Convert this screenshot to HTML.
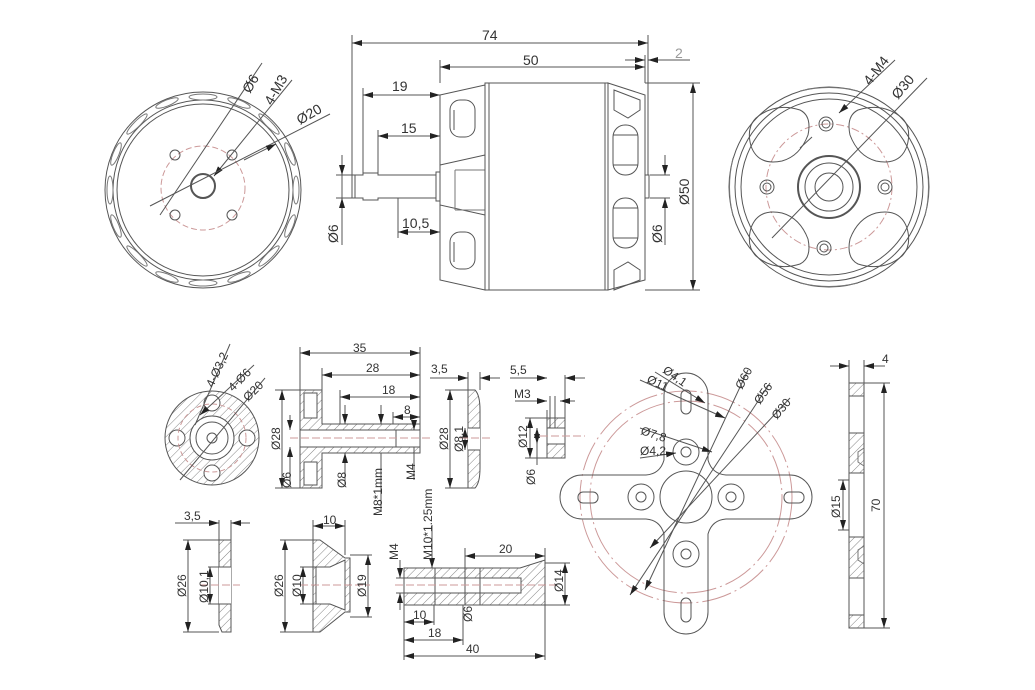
<!DOCTYPE html>
<html><head><meta charset="utf-8"><style>
html,body{margin:0;padding:0;background:#fff}
svg{display:block}
text{font-family:"Liberation Sans",sans-serif;font-size:14px;fill:#333}
.s{font-size:12px}
</style></head><body>
<svg width="1035" height="690" viewBox="0 0 1035 690" xmlns="http://www.w3.org/2000/svg">
<defs>
<marker id="a" viewBox="0 0 10 6" refX="10" refY="3" markerWidth="10" markerHeight="6" orient="auto-start-reverse" markerUnits="userSpaceOnUse"><path d="M0,0L10,3L0,6z" fill="#222"/></marker>
<pattern id="h" width="6" height="6" patternUnits="userSpaceOnUse" patternTransform="rotate(45)"><line x1="0" y1="0" x2="0" y2="6" stroke="#666" stroke-width="0.8"/></pattern>
</defs>
<g fill="none" stroke="#555" stroke-width="1">
<!-- top-left front view -->
<circle cx="203" cy="190" r="98"/>
<circle cx="203" cy="190" r="90"/>
<circle cx="203" cy="190" r="86"/>
<g stroke="#777">
<ellipse cx="203" cy="97" rx="14" ry="3"/><ellipse cx="203" cy="283" rx="14" ry="3"/>
<ellipse cx="110" cy="190" rx="3" ry="14"/><ellipse cx="296" cy="190" rx="3" ry="14"/>
<ellipse cx="137" cy="124" rx="14" ry="3" transform="rotate(-45 137 124)"/><ellipse cx="269" cy="124" rx="14" ry="3" transform="rotate(45 269 124)"/>
<ellipse cx="137" cy="256" rx="14" ry="3" transform="rotate(45 137 256)"/><ellipse cx="269" cy="256" rx="14" ry="3" transform="rotate(-45 269 256)"/>
<ellipse cx="116" cy="154" rx="3" ry="12" transform="rotate(22 116 154)"/><ellipse cx="290" cy="154" rx="3" ry="12" transform="rotate(-22 290 154)"/>
<ellipse cx="116" cy="226" rx="3" ry="12" transform="rotate(-22 116 226)"/><ellipse cx="290" cy="226" rx="3" ry="12" transform="rotate(22 290 226)"/>
<ellipse cx="167" cy="103" rx="12" ry="3" transform="rotate(-22 167 103)"/><ellipse cx="239" cy="103" rx="12" ry="3" transform="rotate(22 239 103)"/>
<ellipse cx="167" cy="277" rx="12" ry="3" transform="rotate(22 167 277)"/><ellipse cx="239" cy="277" rx="12" ry="3" transform="rotate(-22 239 277)"/>
</g>
<circle cx="203" cy="188" r="42" stroke="#c99" stroke-dasharray="6,3"/>
<circle cx="203" cy="186" r="12" stroke-width="2"/>
<circle cx="175" cy="155" r="5"/><circle cx="232" cy="155" r="5"/><circle cx="175" cy="215" r="5"/><circle cx="232" cy="215" r="5"/>
<line x1="262" y1="63" x2="160" y2="215"/><line x1="292" y1="80" x2="214" y2="176" marker-end="url(#a)"/>
<line x1="330" y1="114" x2="150" y2="206"/>
<line x1="276" y1="144" x2="244" y2="160" marker-start="url(#a)"/>
<!-- side view -->
<line x1="352" y1="35" x2="352" y2="175"/><line x1="648" y1="35" x2="648" y2="175"/>
<line x1="352" y1="43" x2="648" y2="43" marker-start="url(#a)" marker-end="url(#a)"/>
<line x1="440" y1="60" x2="440" y2="83"/><line x1="645" y1="55" x2="645" y2="83"/>
<line x1="440" y1="67" x2="645" y2="67" marker-start="url(#a)" marker-end="url(#a)"/>
<line x1="625" y1="60" x2="645" y2="60" marker-end="url(#a)"/><line x1="670" y1="60" x2="648" y2="60" marker-end="url(#a)"/><line x1="670" y1="60" x2="690" y2="60"/>
<line x1="363" y1="88" x2="363" y2="175"/><line x1="363" y1="95" x2="440" y2="95" marker-start="url(#a)" marker-end="url(#a)"/>
<line x1="378" y1="130" x2="378" y2="175"/><line x1="378" y1="136" x2="440" y2="136" marker-start="url(#a)" marker-end="url(#a)"/>
<line x1="398" y1="198" x2="398" y2="238"/><line x1="398" y1="232" x2="440" y2="232" marker-start="url(#a)" marker-end="url(#a)"/>
<line x1="342" y1="155" x2="342" y2="245"/><line x1="336" y1="175" x2="352" y2="175"/><line x1="336" y1="198" x2="352" y2="198"/>
<line x1="342" y1="160" x2="342" y2="175" marker-end="url(#a)"/><line x1="342" y1="213" x2="342" y2="198" marker-end="url(#a)"/>
<path d="M352,175H363V173H378V175H436V198H378V200H363V198H352Z"/>
<line x1="355" y1="175" x2="355" y2="198"/>
<rect x="436" y="172" width="4" height="29"/>
<path d="M440,95L485,85V290L440,280Z"/>
<path d="M440,165L485,155V215L440,205Z"/>
<path d="M455,170H485M455,210H485M455,170V210" stroke="#777"/>
<rect x="450" y="100" width="25" height="37" rx="10"/><rect x="450" y="232" width="25" height="37" rx="10"/>
<line x1="454" y1="110" x2="454" y2="130"/><line x1="454" y1="242" x2="454" y2="262"/>
<rect x="485" y="83" width="4" height="207"/>
<rect x="489" y="83" width="116" height="207"/>
<rect x="605" y="83" width="3" height="207"/>
<path d="M608,83L645,95V280L608,290Z"/>
<path d="M614,90L640,100V110L628,118L614,110Z"/><path d="M614,290L640,280V270L628,262L614,270Z"/>
<rect x="613" y="125" width="25" height="50" rx="12"/><rect x="613" y="198" width="25" height="50" rx="12"/>
<line x1="613" y1="135" x2="638" y2="135"/><line x1="613" y1="165" x2="638" y2="165"/>
<line x1="613" y1="208" x2="638" y2="208"/><line x1="613" y1="238" x2="638" y2="238"/>
<rect x="645" y="175" width="4" height="23"/>
<line x1="650" y1="175" x2="670" y2="175"/><line x1="650" y1="198" x2="670" y2="198"/>
<line x1="665" y1="155" x2="665" y2="175" marker-end="url(#a)"/><line x1="665" y1="218" x2="665" y2="198" marker-end="url(#a)"/><line x1="665" y1="218" x2="665" y2="245"/>
<line x1="645" y1="83" x2="700" y2="83"/><line x1="645" y1="290" x2="700" y2="290"/>
<line x1="693" y1="83" x2="693" y2="290" marker-start="url(#a)" marker-end="url(#a)"/>
<!-- right front view -->
<circle cx="829" cy="187" r="100"/><circle cx="829" cy="187" r="94"/><circle cx="829" cy="187" r="88"/>
<g stroke="#777">
<path d="M800,91Q829,84 858,91"/><path d="M800,283Q829,290 858,283"/>
<path d="M733,158Q726,187 733,216"/><path d="M925,158Q932,187 925,216"/>
</g>
<circle cx="829" cy="187" r="63" stroke="#c99" stroke-dasharray="8,3,2,3"/>
<g id="lobe"><path d="M756,118Q775,102 800,110Q812,116 808,135Q800,156 782,161Q758,166 751,146Q746,128 756,118Z"/></g>
<use href="#lobe" transform="translate(1658,0) scale(-1,1)"/>
<use href="#lobe" transform="translate(0,374) scale(1,-1)"/>
<use href="#lobe" transform="translate(1658,374) scale(-1,-1)"/>
<circle cx="829" cy="187" r="31" stroke-width="2"/><circle cx="829" cy="187" r="24"/><circle cx="829" cy="187" r="14"/>
<circle cx="826" cy="124" r="7"/><circle cx="826" cy="124" r="4"/>
<circle cx="824" cy="248" r="7"/><circle cx="824" cy="248" r="4"/>
<circle cx="767" cy="187" r="7"/><circle cx="767" cy="187" r="4"/>
<circle cx="885" cy="187" r="7"/><circle cx="885" cy="187" r="4"/>
<line x1="895" y1="60" x2="839" y2="113" marker-end="url(#a)"/><line x1="812" y1="137" x2="800" y2="148"/>
<line x1="927" y1="78" x2="772" y2="238"/>
<!-- bottom: hub -->
<circle cx="212" cy="438" r="47" fill="url(#h)"/>
<circle cx="212" cy="438" r="22" fill="#fff"/><circle cx="212" cy="438" r="16"/><circle cx="212" cy="438" r="5"/>
<circle cx="212" cy="403" r="8" fill="#fff"/><circle cx="212" cy="473" r="8" fill="#fff"/><circle cx="177" cy="438" r="8" fill="#fff"/><circle cx="247" cy="438" r="8" fill="#fff"/>
<circle cx="212" cy="438" r="34" stroke="#c99" stroke-dasharray="5,3"/>
<line x1="230" y1="344" x2="195" y2="425"/><line x1="254" y1="365" x2="200" y2="415" marker-end="url(#a)"/>
<line x1="265" y1="378" x2="180" y2="480"/>
<!-- prop adapter -->
<line x1="300" y1="347" x2="300" y2="390"/><line x1="420" y1="347" x2="420" y2="424"/>
<line x1="300" y1="353" x2="420" y2="353" marker-start="url(#a)" marker-end="url(#a)"/>
<line x1="322" y1="368" x2="322" y2="390"/><line x1="322" y1="375" x2="420" y2="375" marker-start="url(#a)" marker-end="url(#a)"/>
<line x1="340" y1="390" x2="340" y2="424"/><line x1="340" y1="397" x2="420" y2="397" marker-start="url(#a)" marker-end="url(#a)"/>
<line x1="393" y1="412" x2="393" y2="424"/><line x1="393" y1="417" x2="420" y2="417" marker-start="url(#a)" marker-end="url(#a)"/>
<path d="M300,390H322V424H420V453H322V488H300Z" fill="url(#h)"/>
<rect x="304" y="393" width="13" height="25" fill="#fff"/><rect x="304" y="462" width="13" height="23" fill="#fff"/>
<rect x="300" y="430" width="120" height="17" fill="#fff"/>
<line x1="396" y1="430" x2="396" y2="447"/>
<line x1="275" y1="390" x2="300" y2="390"/><line x1="275" y1="488" x2="300" y2="488"/>
<line x1="282" y1="390" x2="282" y2="488" marker-start="url(#a)" marker-end="url(#a)"/>
<line x1="290" y1="415" x2="290" y2="430" marker-end="url(#a)"/><line x1="290" y1="462" x2="290" y2="447" marker-end="url(#a)"/><line x1="290" y1="462" x2="290" y2="485"/>
<line x1="345" y1="405" x2="345" y2="424" marker-end="url(#a)"/><line x1="345" y1="472" x2="345" y2="453" marker-end="url(#a)"/><line x1="345" y1="472" x2="345" y2="485"/>
<line x1="381" y1="405" x2="381" y2="424" marker-end="url(#a)"/><line x1="381" y1="453" x2="381" y2="510"/>
<line x1="414" y1="420" x2="414" y2="430" marker-end="url(#a)"/><line x1="414" y1="447" x2="414" y2="480"/>
<line x1="290" y1="438" x2="430" y2="438" stroke="#c99" stroke-dasharray="8,3"/>
<!-- washer -->
<path d="M468,390H475Q480,395 480,410V468Q480,483 475,488H468Z" fill="url(#h)"/>
<rect x="468" y="428" width="12" height="22" fill="#fff" stroke="none"/>
<line x1="468" y1="428" x2="480" y2="428"/><line x1="468" y1="450" x2="480" y2="450"/>
<line x1="430" y1="378" x2="468" y2="378" marker-end="url(#a)"/><line x1="500" y1="378" x2="480" y2="378" marker-end="url(#a)"/>
<line x1="468" y1="372" x2="468" y2="390"/><line x1="480" y1="372" x2="480" y2="390"/>
<line x1="445" y1="390" x2="468" y2="390"/><line x1="445" y1="488" x2="468" y2="488"/>
<line x1="450" y1="390" x2="450" y2="488" marker-start="url(#a)" marker-end="url(#a)"/>
<line x1="465" y1="428" x2="465" y2="450" marker-start="url(#a)" marker-end="url(#a)"/>
<line x1="460" y1="438" x2="490" y2="438" stroke="#c99" stroke-dasharray="8,3"/>
<!-- nut -->
<rect x="547" y="418" width="18" height="40" fill="url(#h)"/>
<rect x="547" y="428" width="18" height="16" fill="#fff"/>
<line x1="547" y1="410" x2="547" y2="418"/><line x1="565" y1="375" x2="565" y2="418"/>
<line x1="510" y1="378" x2="547" y2="378" marker-end="url(#a)"/><line x1="585" y1="378" x2="565" y2="378" marker-end="url(#a)"/>
<line x1="515" y1="401" x2="547" y2="401" marker-end="url(#a)"/><line x1="575" y1="401" x2="560" y2="401" marker-end="url(#a)"/>
<line x1="550" y1="396" x2="550" y2="428"/><line x1="555" y1="396" x2="555" y2="428"/>
<line x1="525" y1="418" x2="547" y2="418"/><line x1="525" y1="458" x2="547" y2="458"/>
<line x1="530" y1="418" x2="530" y2="458" marker-start="url(#a)" marker-end="url(#a)"/>
<line x1="537" y1="428" x2="537" y2="444" marker-start="url(#a)" marker-end="url(#a)"/><line x1="537" y1="444" x2="537" y2="465"/>
<line x1="540" y1="436" x2="585" y2="436" stroke="#c99" stroke-dasharray="8,3"/>
<!-- cross mount -->
<circle cx="686" cy="497" r="96" stroke="#c99" stroke-dasharray="30,4,2,4"/>
<circle cx="686" cy="497" r="106" stroke="#c99" stroke-dasharray="30,4,2,4"/>
<path d="M664,395A22,22 0 0 1 708,395V460Q712,474 726,475H790A22,22 0 0 1 790,519H726Q712,520 708,534V612A22,22 0 0 1 664,612V534Q660,520 646,519H582A22,22 0 0 1 582,475H646Q660,474 664,460Z"/>
<circle cx="686" cy="497" r="26"/>
<rect x="681" y="390" width="10" height="24" rx="5"/><rect x="681" y="598" width="10" height="24" rx="5"/>
<rect x="578" y="492" width="20" height="11" rx="5"/><rect x="784" y="492" width="20" height="11" rx="5"/>
<circle cx="686" cy="452" r="13"/><circle cx="686" cy="452" r="5"/>
<circle cx="686" cy="554" r="13"/><circle cx="686" cy="554" r="5"/>
<circle cx="641" cy="497" r="13"/><circle cx="641" cy="497" r="5"/>
<circle cx="731" cy="497" r="13"/><circle cx="731" cy="497" r="5"/>
<line x1="640" y1="380" x2="725" y2="418" marker-end="url(#a)"/><line x1="655" y1="372" x2="705" y2="403" marker-end="url(#a)"/>
<line x1="640" y1="428" x2="712" y2="452" marker-end="url(#a)"/><line x1="640" y1="458" x2="676" y2="453" marker-end="url(#a)"/>
<line x1="748" y1="370" x2="645" y2="590" marker-end="url(#a)"/>
<line x1="770" y1="383" x2="630" y2="595" marker-end="url(#a)"/>
<line x1="790" y1="398" x2="650" y2="548" marker-end="url(#a)"/>
<!-- side plate -->
<rect x="849" y="383" width="15" height="245" fill="url(#h)"/>
<rect x="849" y="396" width="15" height="37" fill="#fff"/><rect x="849" y="473" width="15" height="64" fill="#fff"/><rect x="849" y="578" width="15" height="37" fill="#fff"/>
<path d="M864,448L858,452V462L864,466M864,546L858,550V560L864,564" stroke="#777"/>
<line x1="849" y1="360" x2="849" y2="383"/><line x1="864" y1="360" x2="864" y2="383"/>
<line x1="830" y1="366" x2="849" y2="366" marker-end="url(#a)"/><line x1="885" y1="366" x2="864" y2="366" marker-end="url(#a)"/>
<line x1="864" y1="383" x2="890" y2="383"/><line x1="864" y1="628" x2="890" y2="628"/>
<line x1="884" y1="383" x2="884" y2="628" marker-start="url(#a)" marker-end="url(#a)"/>
<line x1="838" y1="480" x2="849" y2="480"/><line x1="838" y1="530" x2="849" y2="530"/>
<line x1="843" y1="480" x2="843" y2="530" marker-start="url(#a)" marker-end="url(#a)"/>
<!-- bottom washer -->
<path d="M219,540H231V632H222L219,625Z" fill="url(#h)"/>
<rect x="219" y="567" width="12" height="37" fill="#fff" stroke="none"/>
<line x1="219" y1="567" x2="231" y2="567"/><line x1="219" y1="604" x2="231" y2="604"/>
<line x1="219" y1="520" x2="219" y2="540"/><line x1="231" y1="520" x2="231" y2="540"/>
<line x1="175" y1="523" x2="219" y2="523" marker-end="url(#a)"/><line x1="250" y1="523" x2="231" y2="523" marker-end="url(#a)"/>
<line x1="183" y1="540" x2="219" y2="540"/><line x1="183" y1="632" x2="219" y2="632"/>
<line x1="188" y1="540" x2="188" y2="632" marker-start="url(#a)" marker-end="url(#a)"/>
<line x1="208" y1="567" x2="219" y2="567"/><line x1="208" y1="604" x2="219" y2="604"/>
<line x1="210" y1="567" x2="210" y2="604" marker-start="url(#a)" marker-end="url(#a)"/>
<line x1="200" y1="585" x2="240" y2="585" stroke="#c99" stroke-dasharray="8,3"/>
<!-- cone -->
<path d="M313,540H320L345,558H350V612H345L320,632H313Z" fill="url(#h)"/>
<path d="M316,567H330L345,560V610L330,604H316Z" fill="#fff"/>
<line x1="313" y1="520" x2="313" y2="540"/><line x1="345" y1="520" x2="345" y2="555"/>
<line x1="313" y1="526" x2="345" y2="526" marker-start="url(#a)" marker-end="url(#a)"/>
<line x1="280" y1="540" x2="313" y2="540"/><line x1="280" y1="632" x2="313" y2="632"/>
<line x1="285" y1="540" x2="285" y2="632" marker-start="url(#a)" marker-end="url(#a)"/>
<line x1="300" y1="567" x2="316" y2="567"/><line x1="300" y1="604" x2="316" y2="604"/>
<line x1="303" y1="567" x2="303" y2="604" marker-start="url(#a)" marker-end="url(#a)"/>
<line x1="350" y1="555" x2="372" y2="555"/><line x1="350" y1="617" x2="372" y2="617"/>
<line x1="368" y1="555" x2="368" y2="617" marker-start="url(#a)" marker-end="url(#a)"/>
<line x1="300" y1="585" x2="370" y2="585" stroke="#c99" stroke-dasharray="8,3"/>
<!-- long shaft -->
<path d="M404,568H520L545,560V605H404Z" fill="url(#h)"/>
<rect x="404" y="578" width="117" height="15" fill="#fff"/>
<line x1="435" y1="568" x2="435" y2="605"/><line x1="465" y1="568" x2="465" y2="605"/>
<line x1="396" y1="578" x2="404" y2="578"/><line x1="396" y1="593" x2="404" y2="593"/>
<line x1="400" y1="560" x2="400" y2="578" marker-end="url(#a)"/><line x1="400" y1="610" x2="400" y2="593" marker-end="url(#a)"/>
<line x1="432" y1="525" x2="432" y2="568" marker-end="url(#a)"/>
<line x1="465" y1="548" x2="465" y2="568"/><line x1="545" y1="548" x2="545" y2="560"/>
<line x1="465" y1="556" x2="545" y2="556" marker-start="url(#a)" marker-end="url(#a)"/>
<line x1="545" y1="563" x2="570" y2="563"/><line x1="545" y1="605" x2="570" y2="605"/>
<line x1="565" y1="563" x2="565" y2="605" marker-start="url(#a)" marker-end="url(#a)"/>
<line x1="480" y1="568" x2="480" y2="605"/>
<line x1="404" y1="605" x2="404" y2="660"/><line x1="545" y1="605" x2="545" y2="660"/>
<line x1="404" y1="622" x2="434" y2="622" marker-start="url(#a)" marker-end="url(#a)"/>
<line x1="434" y1="605" x2="434" y2="625"/><line x1="463" y1="605" x2="463" y2="645"/>
<line x1="404" y1="640" x2="463" y2="640" marker-start="url(#a)" marker-end="url(#a)"/>
<line x1="404" y1="656" x2="545" y2="656" marker-start="url(#a)" marker-end="url(#a)"/>
<line x1="395" y1="585" x2="560" y2="585" stroke="#c99" stroke-dasharray="8,3"/>
</g>
<!-- texts -->
<g>
<text x="482" y="40">74</text>
<text x="523" y="65">50</text>
<text x="675" y="58" style="fill:#999">2</text>
<text x="392" y="91">19</text>
<text x="401" y="133">15</text>
<text x="402" y="228">10,5</text>
<text transform="translate(338,243) rotate(-90)">Ø6</text>
<text transform="translate(662,243) rotate(-90)">Ø6</text>
<text transform="translate(689,205) rotate(-90)">Ø50</text>
<text transform="translate(250,94) rotate(-60)">Ø6</text>
<text transform="translate(272,106) rotate(-60)">4-M3</text>
<text transform="translate(300,125) rotate(-30)">Ø20</text>
<text transform="translate(870,86) rotate(-52)">4-M4</text>
<text transform="translate(898,100) rotate(-50)">Ø30</text>
<text class="s" transform="translate(213,388) rotate(-65)">4-Ø3,2</text>
<text class="s" transform="translate(233,392) rotate(-45)">4-Ø6</text>
<text class="s" transform="translate(248,402) rotate(-45)">Ø20</text>
<text class="s" x="353" y="352">35</text>
<text class="s" x="366" y="372">28</text>
<text class="s" x="382" y="394">18</text>
<text class="s" x="404" y="414">8</text>
<text class="s" transform="translate(280,450) rotate(-90)">Ø28</text>
<text class="s" transform="translate(291,488) rotate(-90)">Ø6</text>
<text class="s" transform="translate(346,488) rotate(-90)">Ø8</text>
<text class="s" transform="translate(382,516) rotate(-90)">M8*1mm</text>
<text class="s" transform="translate(415,480) rotate(-90)">M4</text>
<text class="s" x="431" y="373">3,5</text>
<text class="s" transform="translate(448,450) rotate(-90)">Ø28</text>
<text class="s" transform="translate(463,452) rotate(-90)">Ø8,1</text>
<text class="s" x="510" y="374">5,5</text>
<text class="s" x="514" y="398">M3</text>
<text class="s" transform="translate(527,448) rotate(-90)">Ø12</text>
<text class="s" transform="translate(535,485) rotate(-90)">Ø6</text>
<text class="s" transform="translate(646,382) rotate(25)">Ø11</text>
<text class="s" transform="translate(662,372) rotate(35)">Ø4,1</text>
<text class="s" transform="translate(742,390) rotate(-62)">Ø60</text>
<text class="s" transform="translate(760,405) rotate(-55)">Ø56</text>
<text class="s" transform="translate(777,420) rotate(-50)">Ø30</text>
<text class="s" transform="translate(640,434) rotate(18)">Ø7,8</text>
<text class="s" x="640" y="455">Ø4,2</text>
<text class="s" x="882" y="363">4</text>
<text class="s" transform="translate(880,512) rotate(-90)">70</text>
<text class="s" transform="translate(840,518) rotate(-90)">Ø15</text>
<text class="s" x="184" y="520">3,5</text>
<text class="s" transform="translate(186,597) rotate(-90)">Ø26</text>
<text class="s" transform="translate(208,603) rotate(-90)">Ø10,1</text>
<text class="s" x="323" y="524">10</text>
<text class="s" transform="translate(283,597) rotate(-90)">Ø26</text>
<text class="s" transform="translate(301,597) rotate(-90)">Ø10</text>
<text class="s" transform="translate(366,597) rotate(-90)">Ø19</text>
<text class="s" transform="translate(398,560) rotate(-90)">M4</text>
<text class="s" transform="translate(432,560) rotate(-90)">M10*1.25mm</text>
<text class="s" x="499" y="553">20</text>
<text class="s" transform="translate(563,592) rotate(-90)">Ø14</text>
<text class="s" x="413" y="619">10</text>
<text class="s" x="428" y="637">18</text>
<text class="s" transform="translate(472,622) rotate(-90)">Ø6</text>
<text class="s" x="466" y="653">40</text>
</g>
</svg>
</body></html>
